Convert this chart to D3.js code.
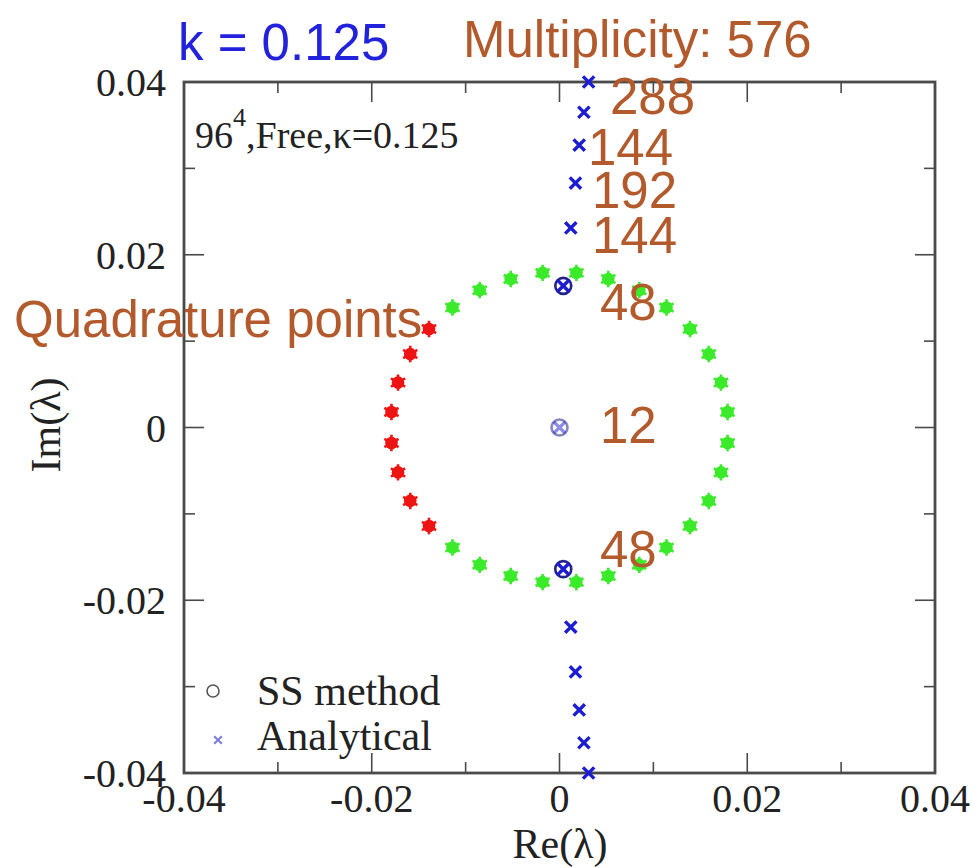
<!DOCTYPE html>
<html>
<head>
    <meta charset="utf-8">
    <script src="https://d3js.org/d3.v7.min.js"></script>
    <style>
        body { margin: 0; background: #fff; }
        svg { display: block; }
    </style>
</head>
<body>
    <div id="chart"></div>

    <script>
        // Quadrature points on the contour (green = outside, red = inside the left half)
        var greenRe = [-0.0114, -0.0085, -0.0052, -0.0018, 0.0018, 0.0052, 0.0085, 0.0114,
                       0.0139, 0.0159, 0.0172, 0.0179, 0.0179, 0.0172, 0.0159, 0.0139,
                       0.0114, 0.0085, 0.0052, 0.0018, -0.0018, -0.0052, -0.0085, -0.0114];
        var greenIm = [-0.0139, -0.0159, -0.0172, -0.0179, -0.0179, -0.0172, -0.0159, -0.0139,
                       -0.0114, -0.0085, -0.0052, -0.0018, 0.0018, 0.0052, 0.0085, 0.0114,
                       0.0139, 0.0159, 0.0172, 0.0179, 0.0179, 0.0172, 0.0159, 0.0139];
        var redRe = [-0.0139, -0.0159, -0.0172, -0.0179, -0.0179, -0.0172, -0.0159, -0.0139];
        var redIm = [0.0114, 0.0085, 0.0052, 0.0018, -0.0018, -0.0052, -0.0085, -0.0114];

        // Analytical eigenvalues
        var anaRe = [0.0031, 0.0026, 0.0021, 0.0017, 0.0012, 0.0004, 0, 0.0004, 0.0012, 0.0017, 0.0021, 0.0026, 0.0031];
        var anaIm = [0.0400, 0.0365, 0.0327, 0.0283, 0.0231, 0.0164, 0, -0.0164, -0.0231, -0.0283, -0.0327, -0.0365, -0.0400];

        // SS method eigenvalues
        var ssRe = [0.0004, 0, 0.0004];
        var ssIm = [0.0164, 0, -0.0164];

        var xTicks = [-0.04, -0.02, 0, 0.02, 0.04];
        var yTicks = [-0.04, -0.02, 0, 0.02, 0.04];
        var minorTicks = [-0.03, -0.01, 0.01, 0.03];

        var W = 977, H = 868;
        var pl = 184, pr = 935, pt = 82, pb = 773;

        var svg = d3.select("#chart").append("svg")
            .attr("width", W).attr("height", H);

        var x = d3.scaleLinear().domain([-0.04, 0.04]).range([pl, pr]);
        var y = d3.scaleLinear().domain([-0.04, 0.04]).range([pb, pt]);

        var axisColor = "#4a4a4a";
        var serif = "'Liberation Serif', 'Times New Roman', serif";
        var sans = "'Liberation Sans', Arial, sans-serif";
        var brown = "#b35a2d";

        function fmt(d) { return d === 0 ? "0" : d3.format(".2f")(d).replace("\u2212", "-"); }

        // ticks (inward on all four sides)
        var bigT = 20, smallT = 11;
        var ax = svg.append("g");
        function ticks(vals, len) {
            vals.forEach(function(v) {
                ax.append("line").attr("x1", x(v)).attr("x2", x(v)).attr("y1", pb).attr("y2", pb - len);
                ax.append("line").attr("x1", x(v)).attr("x2", x(v)).attr("y1", pt).attr("y2", pt + len);
                ax.append("line").attr("y1", y(v)).attr("y2", y(v)).attr("x1", pl).attr("x2", pl + len);
                ax.append("line").attr("y1", y(v)).attr("y2", y(v)).attr("x1", pr).attr("x2", pr - len);
            });
        }
        ticks(xTicks, bigT);
        ticks(minorTicks, smallT);
        ax.selectAll("line").attr("stroke", axisColor).attr("stroke-width", 1.6);

        svg.append("rect")
            .attr("x", pl).attr("y", pt)
            .attr("width", pr - pl).attr("height", pb - pt)
            .attr("fill", "none").attr("stroke", axisColor).attr("stroke-width", 2.8);

        // tick labels
        svg.append("g").selectAll("text").data(xTicks).enter().append("text")
            .attr("x", function(d) { return x(d); })
            .attr("y", 812)
            .attr("text-anchor", "middle")
            .style("font-family", serif).style("font-size", "40px").attr("fill", "#222")
            .text(fmt);

        svg.append("g").selectAll("text").data(yTicks).enter().append("text")
            .attr("x", 166)
            .attr("y", function(d) { return y(d) + 14; })
            .attr("text-anchor", "end")
            .style("font-family", serif).style("font-size", "40px").attr("fill", "#222")
            .text(fmt);

        // axis titles
        svg.append("text")
            .attr("x", 560).attr("y", 858)
            .attr("text-anchor", "middle")
            .style("font-family", serif).style("font-size", "42px").attr("fill", "#222")
            .text("Re(\u03bb)");
        svg.append("text")
            .attr("transform", "translate(60,425) rotate(-90)")
            .attr("text-anchor", "middle")
            .style("font-family", serif).style("font-size", "42px").attr("fill", "#222")
            .text("Im(\u03bb)");

        // inner label
        var lab = svg.append("text")
            .attr("x", 195).attr("y", 148)
            .style("font-family", serif).style("font-size", "38px").attr("fill", "#222");
        lab.append("tspan").text("96");
        lab.append("tspan").attr("dy", -22).style("font-size", "26px").text("4");
        lab.append("tspan").attr("dy", 22).text(",Free,\u03ba=0.125");

        // quadrature points
        var spark = d3.symbol().type(d3.symbolAsterisk).size(190);
        function quad(re, im, color) {
            var g = svg.append("g");
            re.forEach(function(r, i) {
                var p = g.append("g").attr("transform", "translate(" + x(r) + "," + y(im[i]) + ")");
                p.append("circle").attr("r", 6.3).attr("fill", color);
                p.append("path").attr("d", spark()).attr("stroke", color).attr("stroke-width", 2.6).attr("fill", "none");
            });
        }
        quad(greenRe, greenIm, "#3bea2a");
        quad(redRe, redIm, "#ee1414");

        // SS method circles
        svg.append("g").selectAll("circle").data(ssRe).enter().append("circle")
            .attr("cx", function(d) { return x(d); })
            .attr("cy", function(d, i) { return y(ssIm[i]); })
            .attr("r", 8)
            .attr("fill", "none")
            .attr("stroke", "#23238c")
            .attr("stroke-width", 2.6)
            .attr("opacity", function(d, i) { return ssIm[i] === 0 ? 0.55 : 1; });

        // analytical crosses
        var times = d3.symbol().type(d3.symbolTimes).size(85);
        svg.append("g").selectAll("path").data(anaRe).enter().append("path")
            .attr("transform", function(d, i) { return "translate(" + x(d) + "," + y(anaIm[i]) + ")"; })
            .attr("d", times)
            .attr("fill", "none")
            .attr("stroke", "#1c1cd2")
            .attr("stroke-width", 3.4)
            .attr("opacity", function(d, i) { return anaIm[i] === 0 ? 0.5 : 1; });

        // legend
        svg.append("circle").attr("cx", 213).attr("cy", 691).attr("r", 6)
            .attr("fill", "none").attr("stroke", "#555").attr("stroke-width", 1.6);
        svg.append("path").attr("d", d3.symbol().type(d3.symbolTimes).size(40)())
            .attr("transform", "translate(218,740)")
            .attr("fill", "none").attr("stroke", "#7a7ae0").attr("stroke-width", 2);
        svg.append("text").attr("x", 257).attr("y", 705)
            .style("font-family", serif).style("font-size", "42px").attr("fill", "#222")
            .text("SS method");
        svg.append("text").attr("x", 257).attr("y", 750)
            .style("font-family", serif).style("font-size", "42px").attr("fill", "#222")
            .text("Analytical");

        // annotations
        function note(t, px, py, color) {
            svg.append("text").attr("x", px).attr("y", py)
                .style("font-family", sans).style("font-size", "51px").attr("fill", color)
                .text(t);
        }
        note("k = 0.125", 178, 60, "#2222dd");
        note("Multiplicity: 576", 463, 57, brown);
        note("Quadrature points", 14, 337, brown);
        var multText = ["288", "144", "192", "144", "48", "12", "48"];
        var multX = [610, 588, 592, 592, 600, 600, 600];
        var multY = [114, 165, 208, 253, 320, 443, 567];
        multText.forEach(function(t, i) { note(t, multX[i], multY[i], brown); });
    </script>
</body>
</html>
